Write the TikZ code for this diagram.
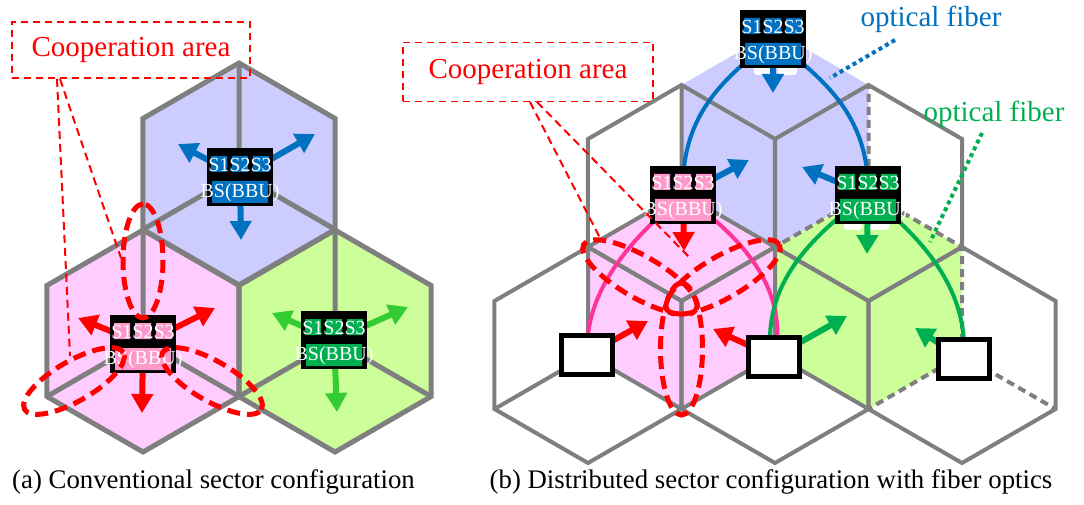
\documentclass[tikz,border=0pt]{standalone}
\usepackage{fontspec}
\setmainfont{Liberation Serif}
\usetikzlibrary{arrows.meta,calc}

\definecolor{hexgray}{HTML}{7F7F7F}
\definecolor{cellblue}{HTML}{CCCCFF}
\definecolor{cellpink}{HTML}{FFCCFF}
\definecolor{cellgreen}{HTML}{CCFF99}
\definecolor{secblue}{HTML}{0070C0}
\definecolor{secred}{HTML}{FF0000}
\definecolor{secgreenA}{HTML}{33CC33}
\definecolor{secgreenB}{HTML}{00B050}
\definecolor{hlpink}{HTML}{FF99CC}
\definecolor{fibpink}{HTML}{FF3399}

\tikzset{
  edgeA/.style={draw=hexgray, line width=5pt},
  edgeB/.style={draw=hexgray, line width=4pt},
  edgeBdash/.style={edgeB, dash pattern=on 8pt off 5pt},
  secarrow/.style={line width=6pt, -{Triangle[width=21pt,length=19pt]}},
  bsframe/.style={fill=black, minimum width=66pt, minimum height=58pt, inner sep=0pt},
  bstext/.style={text=white, font=\fontsize{20}{22}\selectfont, inner sep=0pt},
  rrhbox/.style={draw=black, fill=white, line width=5pt, minimum width=51pt, minimum height=39pt, inner sep=0pt},
  underlay/.style={fill=white, rounded corners=3pt},
  coopring/.style={draw=secred, line width=5pt, dash pattern=on 13pt off 7pt},
  coopbox/.style={draw=secred, line width=1.6pt, dash pattern=on 7pt off 5pt, text=secred, font=\fontsize{29}{31}\selectfont},
  coopline/.style={draw=secred, line width=2pt, dash pattern=on 8pt off 5pt},
  fiber/.style={line width=4pt},
  fiberlead/.style={line width=4pt, dash pattern=on 4pt off 3.5pt},
  fiberlabel/.style={font=\fontsize{29}{31}\selectfont, inner sep=0pt},
  caption/.style={font=\fontsize{26.8}{29}\selectfont, inner sep=0pt}
}

% hexagon outline around a centre, and its three sector borders
\newcommand\hexcell[3]{\path[#3, shift={(#1)}] (-90:#2) -- (-30:#2) -- (30:#2) -- (90:#2) -- (150:#2) -- (210:#2) -- cycle;}
\newcommand\hexspokes[3]{\path[#3, shift={(#1)}] (0,0) -- (-90:#2) (0,0) -- (150:#2) (0,0) -- (30:#2);}
% base station block: black frame, coloured sector marks, labels
\newcommand\bsunit[3]{%
  \node[bsframe] (#1) at (#2) {};
  \fill[#3, shift={(#1)}] (-29,-21) rectangle (-13,-5) (-8,-21) rectangle (8,-5)
        (13,-21) rectangle (29,-5) (-28,4) rectangle (28,26);
  \node[bstext] (#1-top) at ($(#1)+(0,-12)$) {S1S2S3};
  \node[bstext] (#1-bot) at ($(#1)+(0,16)$) {BS(BBU)};}

\begin{document}
\begin{tikzpicture}[x=1pt,y=-1pt]
\useasboundingbox (0,0) rectangle (1084,505);

% ================= (a) conventional sector configuration =================
\coordinate (a-blue) at (239,174);
\coordinate (a-pink) at (143,341);
\coordinate (a-green) at (335,341);
\hexcell{a-blue}{111}{fill=cellblue}
\hexcell{a-pink}{111}{fill=cellpink}
\hexcell{a-green}{111}{fill=cellgreen}
\foreach \c in {a-blue,a-pink,a-green}{\hexcell{\c}{111}{edgeA}\hexspokes{\c}{111}{edgeA}}

\coordinate (a-bsB) at (240,177);
\coordinate (a-bsP) at (143,344);
\coordinate (a-bsG) at (334,340);
\coordinate (a-bsB-ul) at (178,144);
\coordinate (a-bsB-ur) at (315,134);
\coordinate (a-bsB-dn) at (241,240);
\coordinate (a-bsP-ul) at (78,318);
\coordinate (a-bsP-ur) at (215,308);
\coordinate (a-bsP-dn) at (142,413);
\coordinate (a-bsG-ul) at (272,313);
\coordinate (a-bsG-ur) at (408,307);
\coordinate (a-bsG-dn) at (337,412);
\foreach \t in {ul,ur,dn}{
  \draw[secarrow, secblue] (a-bsB) -- (a-bsB-\t);
  \draw[secarrow, secred] (a-bsP) -- (a-bsP-\t);
  \draw[secarrow, secgreenA] (a-bsG) -- (a-bsG-\t);}
\bsunit{a-unitB}{a-bsB}{secblue}
\bsunit{a-unitP}{a-bsP}{hlpink}
\bsunit{a-unitG}{a-bsG}{secgreenB}

% cooperation areas along the sector borders of the pink cell
\coordinate (a-ring1) at (143,261);
\coordinate (a-ring2) at (74,381);
\coordinate (a-ring3) at (212,381);
\draw[coopring, rotate around={90:(a-ring1)}] (a-ring1) ellipse [x radius=57pt, y radius=20pt];
\draw[coopring, rotate around={30:(a-ring2)}] (a-ring2) ellipse [x radius=57pt, y radius=20pt];
\draw[coopring, rotate around={-30:(a-ring3)}] (a-ring3) ellipse [x radius=57pt, y radius=20pt];

\node[coopbox, minimum width=238pt, minimum height=56pt] (a-coop) at (131,50) {Cooperation area};
\coordinate (a-lead1) at (57,79);
\coordinate (a-lead2) at (60,79);
\coordinate (a-leadend1) at (70,356);
\coordinate (a-leadend2) at (121,258);
\draw[coopline] (a-lead1) -- (a-leadend1);
\draw[coopline] (a-lead2) -- (a-leadend2);

\node[caption] (a-cap) at (213.5,482) {(a) Conventional sector configuration};

% ================= (b) distributed sectors with fiber optics =================
\coordinate (hA) at (681.5,193);
\coordinate (hB) at (868.5,193);
\coordinate (h1) at (588,355);
\coordinate (h2) at (775,355);
\coordinate (h3) at (962,355);
\coordinate (rB) at (775,139);
\coordinate (rP) at (681.5,301);
\coordinate (rG) at (868.5,301);
\hexcell{rB}{108}{fill=cellblue}
\hexcell{rP}{108}{fill=cellpink}
\hexcell{rG}{108}{fill=cellgreen}
\foreach \c in {hA,hB,h1,h2,h3}{\hexcell{\c}{108}{edgeB}}
\foreach \c in {hA,h1,h2}{\hexspokes{\c}{108}{edgeB}}
\foreach \c in {hB,h3}{\hexspokes{\c}{108}{edgeBdash}}

\coordinate (b-bsB) at (773,39);
\coordinate (b-bsP) at (683,195);
\coordinate (b-bsG) at (868,195);
\coordinate (b-r1) at (587,355);
\coordinate (b-r2) at (774,357);
\coordinate (b-r3) at (964,359);

% white marks peeking out below the blue and green BBU blocks
\fill[underlay] (754,60) rectangle (772,75) (778,60) rectangle (797,75);
\fill[underlay] (844,215) rectangle (862,230) (869,215) rectangle (889,230);

% fibers from each BBU to its remote sector antennas
\coordinate (b-r2p) at (777,345);
\coordinate (b-r2g) at (770,345);
\draw[fiber, secblue] (b-bsB) .. controls (730,75) and (680,110) .. (b-bsP);
\draw[fiber, secblue] (b-bsB) .. controls (816,75) and (870,110) .. (b-bsG);
\draw[fiber, fibpink] (b-bsP) .. controls (630,240) and (585,290) .. (b-r1);
\draw[fiber, fibpink] (b-bsP) .. controls (745,240) and (782,285) .. (b-r2p);
\draw[fiber, secgreenB] (b-bsG) .. controls (805,240) and (768,285) .. (b-r2g);
\draw[fiber, secgreenB] (b-bsG) .. controls (925,240) and (968,290) .. (b-r3);

\coordinate (b-bsB-dn) at (773,93);
\coordinate (b-bsP-dn) at (684,251);
\coordinate (b-bsP-ur) at (749,160);
\coordinate (b-bsG-ul) at (802,167);
\coordinate (b-bsG-dn) at (867,254);
\coordinate (b-r1-ur) at (648,321);
\coordinate (b-r2-ul) at (713,329);
\coordinate (b-r2-ur) at (847,316);
\coordinate (b-r3-ul) at (915,328);
\draw[secarrow, secblue] (b-bsB) -- (b-bsB-dn);
\draw[secarrow, secred] (b-bsP) -- (b-bsP-dn);
\draw[secarrow, secblue] (b-bsP) -- (b-bsP-ur);
\draw[secarrow, secblue] (b-bsG) -- (b-bsG-ul);
\draw[secarrow, secgreenB] (b-bsG) -- (b-bsG-dn);
\draw[secarrow, secred] (b-r1) -- (b-r1-ur);
\draw[secarrow, secred] (b-r2) -- (b-r2-ul);
\draw[secarrow, secgreenB] (b-r2) -- (b-r2-ur);
\draw[secarrow, secgreenB] (b-r3) -- (b-r3-ul);

\bsunit{b-unitB}{b-bsB}{secblue}
\bsunit{b-unitP}{b-bsP}{hlpink}
\bsunit{b-unitG}{b-bsG}{secgreenB}
\node[rrhbox] (b-rrh1) at (b-r1) {};
\node[rrhbox] (b-rrh2) at (b-r2) {};
\node[rrhbox] (b-rrh3) at (b-r3) {};

% cooperation areas along the borders of the pink virtual cell
\coordinate (b-ring1) at (640,277);
\coordinate (b-ring2) at (723,277);
\coordinate (b-ring3) at (681.5,349);
\draw[coopring, rotate around={-30:(b-ring1)}] (b-ring1) ellipse [x radius=65pt, y radius=21pt];
\draw[coopring, rotate around={30:(b-ring2)}] (b-ring2) ellipse [x radius=65pt, y radius=21pt];
\draw[coopring, rotate around={90:(b-ring3)}] (b-ring3) ellipse [x radius=66pt, y radius=21pt];

\node[coopbox, minimum width=250pt, minimum height=59pt] (b-coop) at (528,72) {Cooperation area};
\coordinate (b-lead1) at (530,102);
\coordinate (b-lead2) at (537,102);
\coordinate (b-leadend1) at (600,238);
\coordinate (b-leadend2) at (691,259);
\draw[coopline] (b-lead1) -- (b-leadend1);
\draw[coopline] (b-lead2) -- (b-leadend2);

% fiber labels
\node[fiberlabel, text=secblue] (b-ofB) at (931,19) {optical fiber};
\node[fiberlabel, text=secgreenB] (b-ofG) at (994,114) {optical fiber};
\coordinate (b-ofB-a) at (895,40);
\coordinate (b-ofB-b) at (830,78);
\coordinate (b-ofG-a) at (982,133);
\coordinate (b-ofG-b) at (930,242);
\draw[fiberlead, secblue] (b-ofB-a) -- (b-ofB-b);
\draw[fiberlead, secgreenB] (b-ofG-a) -- (b-ofG-b);

\node[caption] (b-cap) at (771,482) {(b) Distributed sector configuration with fiber optics};
\end{tikzpicture}
\end{document}
